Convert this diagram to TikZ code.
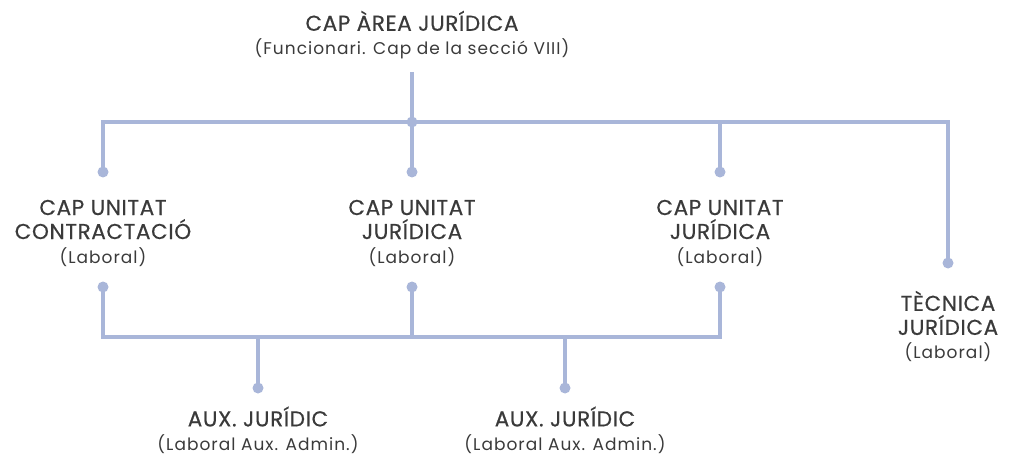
\documentclass[tikz,border=0pt]{standalone}
\usepackage{fontspec}
\setmainfont{Poppins}
\usepackage{tikz}
\usetikzlibrary{positioning}

\definecolor{linkc}{HTML}{A9B6D9}
\definecolor{textc}{HTML}{3A3A3A}

\newcommand{\rolename}[1]{{\fontsize{21.5}{24}\selectfont\addfontfeatures{LetterSpace=3,FakeBold=0.5}#1}}
\newcommand{\roletype}[1]{{\fontsize{17}{23}\selectfont\addfontfeatures{LetterSpace=6}#1}}

\begin{document}
\begin{tikzpicture}[x=1pt,y=-1pt,
   role/.style={align=center,text=textc,inner sep=0pt,font=\fontsize{21.5}{24}\selectfont},
   link/.style={draw=linkc,line width=3.2pt},
   dot/.style={fill=linkc}]
   \useasboundingbox (0,0) rectangle (1009,457);

   % nodes
   \node[role] (cap)  at (412,35)  {\rolename{CAP ÀREA JURÍDICA}\\\roletype{(Funcionari. Cap de la secció VIII)}};
   \node[role] (ucon) at (103,233) {\rolename{CAP UNITAT}\\\rolename{CONTRACTACIÓ}\\\roletype{(Laboral)}};
   \node[role] (ujur) at (412,233) {\rolename{CAP UNITAT}\\\rolename{JURÍDICA}\\\roletype{(Laboral)}};
   \node[role] (ujur2) at (720,233) {\rolename{CAP UNITAT}\\\rolename{JURÍDICA}\\\roletype{(Laboral)}};
   \node[role] (tec)  at (948,326.5) {\rolename{TÈCNICA}\\\rolename{JURÍDICA}\\\roletype{(Laboral)}};
   \node[role] (aux)  at (258,430) {\rolename{AUX. JURÍDIC}\\\roletype{(Laboral Aux. Admin.)}};
   \node[role] (aux2) at (565,430) {\rolename{AUX. JURÍDIC}\\\roletype{(Laboral Aux. Admin.)}};

   % anchors of the connectors
   \coordinate (cap-s)   at (412,72);
   \coordinate (hub)     at (412,122);
   \coordinate (ucon-n)  at (103,172);
   \coordinate (ujur-n)  at (412,172);
   \coordinate (ujur2-n) at (720,172);
   \coordinate (tec-n)   at (948,263);
   \coordinate (ucon-s)  at (103,287);
   \coordinate (ujur-s)  at (412,287);
   \coordinate (ujur2-s) at (720,287);
   \coordinate (aux-n)   at (258,388);
   \coordinate (aux2-n)  at (565,388);
   \coordinate (bar)     at (412,337);

   % connectors
   \draw[link] (cap-s) -- (ujur-n);
   \draw[link] (ucon-n) -- (ucon-n |- hub) -| (tec-n);
   \draw[link] (ujur2-n) -- (ujur2-n |- hub);
   \draw[link] (ucon-s) |- (bar) -| (ujur2-s);
   \draw[link] (ujur-s) -- (bar);
   \draw[link] (aux-n) -- (aux-n |- bar);
   \draw[link] (aux2-n) -- (aux2-n |- bar);

   % dots
   \foreach \d in {hub,ucon-n,ujur-n,ujur2-n,tec-n,ucon-s,ujur-s,ujur2-s,aux-n,aux2-n}
      \fill[dot] (\d) circle (5.5);
\end{tikzpicture}
\end{document}
